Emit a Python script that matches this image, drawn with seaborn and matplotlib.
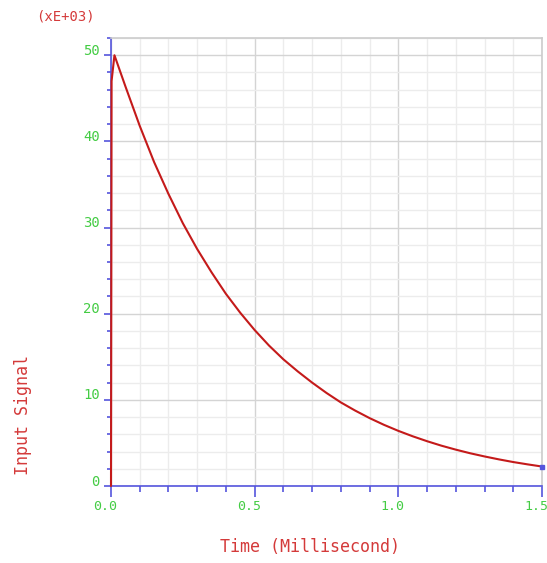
import matplotlib
matplotlib.use("Agg")
import matplotlib.pyplot as plt
import matplotlib.transforms as mtransforms
import seaborn as sns
import pandas as pd
from matplotlib.ticker import MultipleLocator

# Data (time in ms, signal in units of 1e3)
time_ms = [0.0, 0.002, 0.012, 0.05, 0.1, 0.15, 0.2, 0.25, 0.3, 0.35, 0.4, 0.45, 0.5,
           0.55, 0.6, 0.65, 0.7, 0.75, 0.8, 0.85, 0.9, 0.95, 1.0, 1.05, 1.1,
           1.15, 1.2, 1.25, 1.3, 1.35, 1.4, 1.45, 1.5]
signal = [0.0, 47.0, 50.0, 46.4, 41.8, 37.6, 33.9, 30.5, 27.5, 24.8, 22.3, 20.1, 18.1,
          16.3, 14.7, 13.3, 12.0, 10.8, 9.7, 8.75, 7.88, 7.1, 6.4, 5.77, 5.2,
          4.68, 4.22, 3.8, 3.43, 3.09, 2.78, 2.51, 2.26]
x_ticks = [0.0, 0.5, 1.0, 1.5]
x_tick_labels = ["0.0", "0.5", "1.0", "1.5"]
y_ticks = [0, 10, 20, 30, 40, 50]
y_tick_labels = ["0", "10", "20", "30", "40", "50"]

df = pd.DataFrame({"t": time_ms, "v": signal})

sns.set_style("white", {"xtick.bottom": True, "ytick.left": True})
plt.rcParams['font.family'] = ['DejaVu Sans Mono', 'DejaVu Sans']

W, H = 547, 563
fig = plt.figure(figsize=(W / 100, H / 100), dpi=100)
left, right, top, bottom = 111, 542, 38, 486
ax = fig.add_axes([left / W, 1 - bottom / H, (right - left) / W, (bottom - top) / H])

RED = "#c41a1a"
LRED = "#d43a3a"
GREEN = "#44cc44"
BLUE = "#5555dd"

sns.lineplot(data=df, x="t", y="v", ax=ax, color=RED, linewidth=1.5, zorder=5)
for ln in ax.lines:
    ln.set_clip_on(False)
ax.plot([time_ms[-1]], [signal[-1]], marker="s", markersize=3.5, color=BLUE,
        zorder=6, clip_on=False)

ax.set_xlim(0, 1.5)
ax.set_ylim(0, 52)
ax.xaxis.set_minor_locator(MultipleLocator(0.1))
ax.yaxis.set_minor_locator(MultipleLocator(2))
ax.set_xticks(x_ticks)
ax.set_xticklabels(x_tick_labels)
ax.set_yticks(y_ticks)
ax.set_yticklabels(y_tick_labels)

ax.grid(True, which="minor", color="#ececec", linewidth=1.0)
ax.grid(True, which="major", color="#d4d4d4", linewidth=1.0)
ax.set_axisbelow(True)

ax.tick_params(axis="both", which="both", direction="out", width=1.2,
               color=BLUE, labelcolor=GREEN, bottom=True, left=True)
ax.tick_params(axis="x", which="major", length=8, pad=2, labelsize=9.5)
ax.tick_params(axis="x", which="minor", length=4)
ax.tick_params(axis="y", which="major", length=5, pad=3, labelsize=10)
ax.tick_params(axis="y", which="minor", length=3)

# small offsets matching reference label placement
dx = mtransforms.ScaledTranslation(-6 / 100, 0, fig.dpi_scale_trans)
for lab in ax.get_xticklabels():
    lab.set_transform(lab.get_transform() + dx)
dy = mtransforms.ScaledTranslation(0, 6 / 100, fig.dpi_scale_trans)
for lab in ax.get_yticklabels():
    lab.set_transform(lab.get_transform() + dy)

for s in ["top", "right"]:
    ax.spines[s].set_color("#cccccc")
    ax.spines[s].set_linewidth(1.2)
for s in ["left", "bottom"]:
    ax.spines[s].set_color(BLUE)
    ax.spines[s].set_linewidth(1.2)

ax.set_xlabel("")
ax.set_ylabel("")

fig.text(310 / W, 1 - 547 / H, "Time (Millisecond)", color=LRED, fontsize=12,
         ha="center", va="center")
fig.text(23 / W, 1 - 415 / H, "Input Signal", color=LRED, fontsize=12,
         ha="center", va="center", rotation=90)
fig.text(65 / W, 1 - 16 / H, "(xE+03)", color=LRED, fontsize=10,
         ha="center", va="center")

fig.savefig("out.png", dpi=100)
